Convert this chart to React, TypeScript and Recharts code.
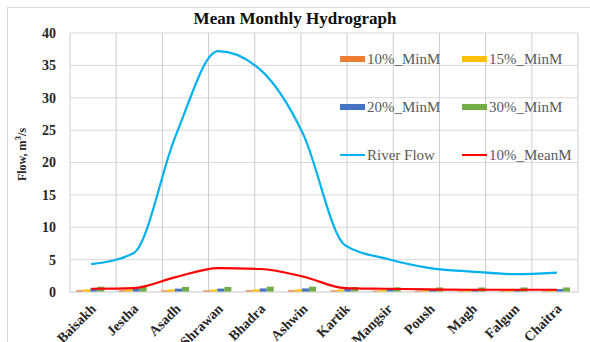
import React from "react";
import { ComposedChart, Bar, Line, XAxis, YAxis, CartesianGrid } from "recharts";

const months = ["Baisakh", "Jestha", "Asadh", "Shrawan", "Bhadra", "Ashwin", "Kartik", "Mangsir", "Poush", "Magh", "Falgun", "Chaitra"];
const riverFlow = [4.3, 6.0, 24.2, 37.2, 34.3, 24.5, 7.2, 5.1, 3.7, 3.15, 2.75, 3.0];
const meanM10 = [0.5, 0.6, 2.3, 3.7, 3.55, 2.4, 0.6, 0.5, 0.4, 0.35, 0.35, 0.35];
const minM10 = [0.27, 0.27, 0.25, 0.25, 0.27, 0.27, 0.25, 0.22, 0.2, 0.2, 0.2, 0.2];
const minM15 = [0.4, 0.4, 0.38, 0.38, 0.4, 0.4, 0.38, 0.33, 0.3, 0.3, 0.3, 0.3];
const minM20 = [0.55, 0.53, 0.52, 0.52, 0.55, 0.55, 0.52, 0.47, 0.45, 0.45, 0.45, 0.45];
const minM30 = [0.82, 0.8, 0.78, 0.78, 0.82, 0.82, 0.78, 0.72, 0.7, 0.7, 0.7, 0.7];
const yTicks = [0, 5, 10, 15, 20, 25, 30, 35, 40];
const boundaryTicks = [0, 1, 2, 3, 4, 5, 6, 7, 8, 9, 10, 11, 12];

const data = months.map((m, i) => ({
  month: m,
  min10: minM10[i],
  min15: minM15[i],
  min20: minM20[i],
  min30: minM30[i],
  river: riverFlow[i],
  mean10: meanM10[i],
}));

const legendItems = [
  { name: "10%_MinM", color: "#ED7D31", type: "bar" },
  { name: "15%_MinM", color: "#FFC000", type: "bar" },
  { name: "20%_MinM", color: "#4472C4", type: "bar" },
  { name: "30%_MinM", color: "#70AD47", type: "bar" },
  { name: "River Flow", color: "#00B0F0", type: "line" },
  { name: "10%_MeanM", color: "#FF0000", type: "line" },
];

const serif = "'Liberation Serif', 'Times New Roman', serif";

const CHART_W = 590;
const CHART_H = 342;
const MARGIN = { top: 33, right: 12, left: 8, bottom: 0 };
const Y_W = 62;

const LegendBox = () => (
  <div
    style={{
      position: "absolute",
      left: 340,
      top: 35,
      display: "grid",
      gridTemplateColumns: "122px 122px",
      fontFamily: serif,
    }}
  >
    {legendItems.map((it) => (
      <div key={it.name} style={{ display: "flex", alignItems: "center", height: 48, fontSize: 15, color: "#595959" }}>
        <span
          style={{
            display: "inline-block",
            width: 25,
            height: it.type === "bar" ? 6 : 2,
            background: it.color,
            marginRight: 2,
          }}
        />
        <span>{it.name}</span>
      </div>
    ))}
  </div>
);

const XTick = (props: any) => {
  const { x, y, payload } = props;
  return (
    <g transform={`translate(${x},${y + 4})`}>
      <text
        transform="rotate(-45)"
        textAnchor="end"
        dy={8}
        fontFamily={serif}
        fontWeight="bold"
        fontSize={14}
        fill="#262626"
      >
        {payload.value}
      </text>
    </g>
  );
};

const YLabel = (props: any) => {
  const vb = props.viewBox || {};
  const cx = 22;
  const cy = vb.y + vb.height / 2 - 8;
  return (
    <text
      x={cx}
      y={cy}
      transform={`rotate(-90, ${cx}, ${cy})`}
      textAnchor="middle"
      dominantBaseline="central"
      fontFamily={serif}
      fontWeight="bold"
      fontSize={12}
      fill="#262626"
    >
      Flow, m<tspan dy={-4} fontSize={9}>3</tspan>
      <tspan dy={4}>/s</tspan>
    </text>
  );
};

export default function App() {
  return (
    <div style={{ position: "absolute", left: 0, top: 0, width: CHART_W, height: CHART_H, overflow: "hidden", background: "#fff" }}>
      <div
        style={{
          position: "absolute",
          left: 7,
          top: 7,
          width: 620,
          height: 400,
          border: "1px solid #d9d9d9",
        }}
      />
      <div
        style={{
          position: "absolute",
          left: 0,
          top: 9,
          width: CHART_W,
          textAlign: "center",
          fontFamily: serif,
          fontWeight: "bold",
          fontSize: 17,
          color: "#0d0d0d",
        }}
      >
        Mean Monthly Hydrograph
      </div>
      <div style={{ position: "absolute", left: 0, top: 0 }}>
        <ComposedChart
          width={CHART_W}
          height={CHART_H}
          data={data}
          margin={MARGIN}
          barCategoryGap="15%"
          barGap={0}
        >
          <XAxis
            xAxisId="grid"
            type="number"
            domain={[0, 12]}
            ticks={boundaryTicks}
            hide
          />
          <CartesianGrid stroke="#d9d9d9" vertical={false} />
          <CartesianGrid stroke="#cccccc" strokeWidth={1} horizontal={false} xAxisId="grid" />
          <XAxis
            dataKey="month"
            height={50}
            tick={<XTick />}
            tickLine={false}
            axisLine={{ stroke: "#d9d9d9" }}
            interval={0}
          />
          <YAxis
            width={Y_W}
            domain={[0, 40]}
            ticks={yTicks}
            tickLine={false}
            axisLine={false}
            tickMargin={8}
            tick={{ fontFamily: serif, fontWeight: "bold", fontSize: 14, fill: "#262626" }}
            label={<YLabel />}
          />
          <Bar dataKey="min10" fill="#ED7D31" isAnimationActive={false} />
          <Bar dataKey="min15" fill="#FFC000" isAnimationActive={false} />
          <Bar dataKey="min20" fill="#4472C4" isAnimationActive={false} />
          <Bar dataKey="min30" fill="#70AD47" isAnimationActive={false} />
          <Line type="monotone" dataKey="river" stroke="#00B0F0" strokeWidth={2.2} dot={false} isAnimationActive={false} />
          <Line type="monotone" dataKey="mean10" stroke="#FF0000" strokeWidth={2.2} dot={false} isAnimationActive={false} />
        </ComposedChart>
      </div>
      <LegendBox />
    </div>
  );
}
